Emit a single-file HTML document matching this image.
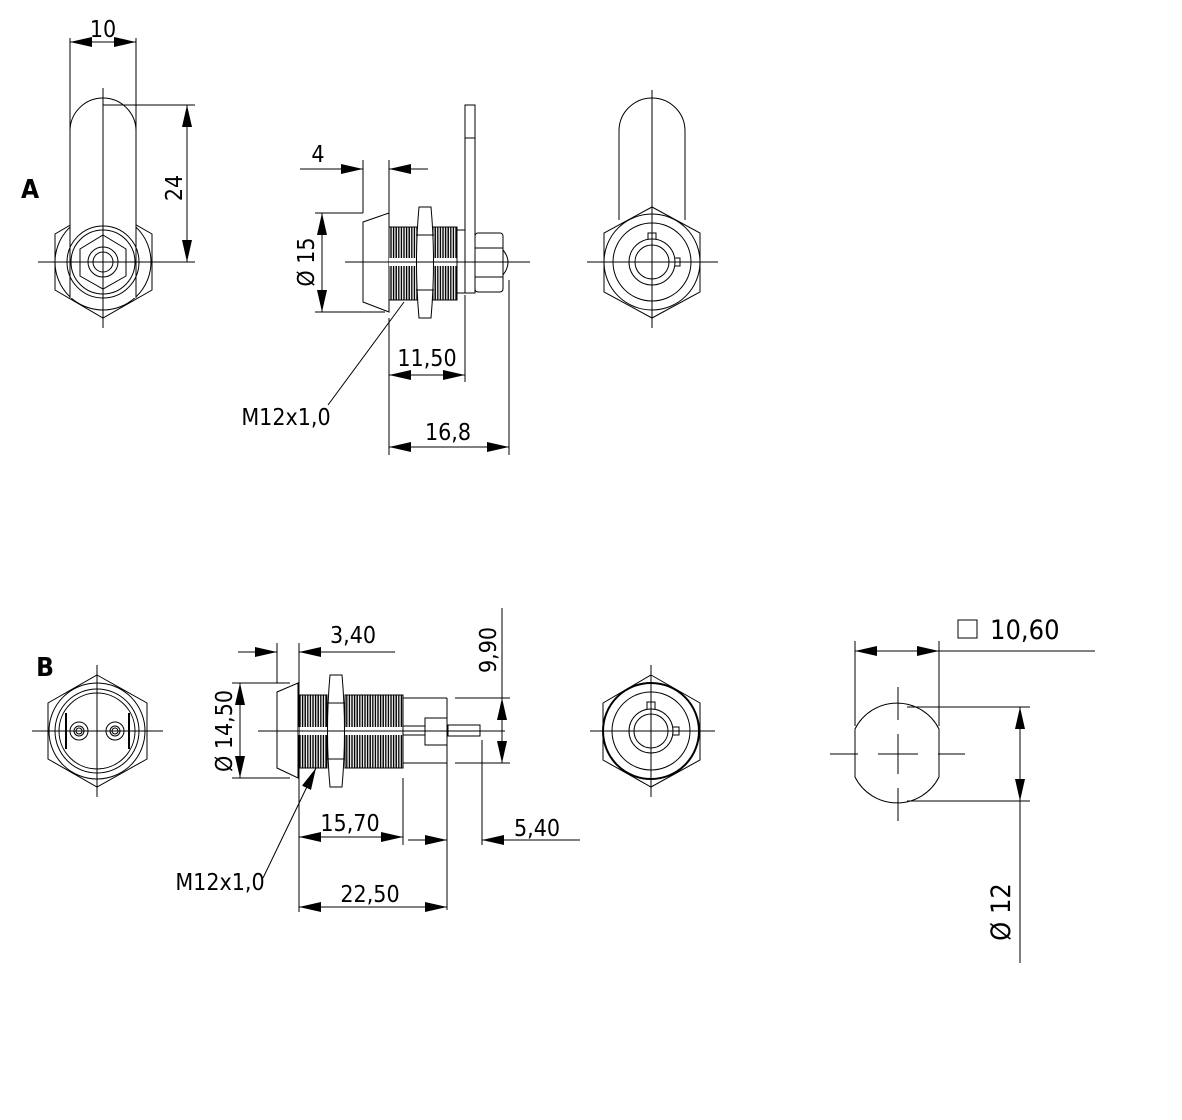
<!DOCTYPE html>
<html><head><meta charset="utf-8"><style>
html,body{margin:0;padding:0;background:#fff;}
svg{display:block;}
text{font-family:"DejaVu Sans Condensed","Liberation Sans",sans-serif;fill:#000;}
</style></head><body>
<svg width="1182" height="1120" viewBox="0 0 1182 1120" xmlns="http://www.w3.org/2000/svg">
<defs>
<marker id="a" markerWidth="22" markerHeight="10" refX="22" refY="5" orient="auto-start-reverse" markerUnits="userSpaceOnUse"><path d="M0,0L22,5L0,10z" fill="#000"/></marker>
<pattern id="th" width="2.6" height="10" patternUnits="userSpaceOnUse"><rect width="2.6" height="10" fill="#fff"/><line x1="1" y1="0" x2="1" y2="10" stroke="#000" stroke-width="1.4"/></pattern>
</defs>
<g fill="none" stroke="#000" stroke-width="1">

<!-- ===== A front view ===== -->
<path d="M103,206 L152,234 L152,290 L103,318 L55,290 L55,234 Z"/>
<circle cx="103" cy="262" r="48"/>
<path d="M70,298 L70,131 A33,33 0 0 1 136,131 L136,298" fill="#fff"/>
<circle cx="103" cy="262" r="36"/>
<circle cx="103" cy="262" r="32"/>
<path d="M103,235 L126,249 L126,276 L103,289 L80,276 L80,249 Z"/>
<circle cx="103" cy="262" r="15"/>
<circle cx="103" cy="262" r="10"/>
<line x1="38" y1="262" x2="160" y2="262"/>
<line x1="103" y1="88" x2="103" y2="328"/>
<line x1="70" y1="38" x2="70" y2="131"/>
<line x1="136" y1="38" x2="136" y2="131"/>
<line x1="70" y1="42" x2="136" y2="42" marker-start="url(#a)" marker-end="url(#a)"/>
<line x1="103" y1="105" x2="195" y2="105"/>
<line x1="150" y1="262" x2="195" y2="262"/>
<line x1="187" y1="105" x2="187" y2="262" marker-start="url(#a)" marker-end="url(#a)"/>

<!-- ===== A side view ===== -->
<path d="M363,222 L389,213 L389,312 L363,302 Z" fill="#fff"/>
<rect x="389" y="227" width="28" height="73" fill="url(#th)"/>
<rect x="433" y="227" width="24" height="73" fill="url(#th)"/>
<line x1="389" y1="262" x2="417" y2="262" stroke="#fff" stroke-width="8"/>
<line x1="433" y1="262" x2="457" y2="262" stroke="#fff" stroke-width="8"/>
<path d="M419,207 L431,207 Q436,262 431,318 L419,318 Q414,262 419,207 Z" fill="#fff"/>
<line x1="416" y1="235" x2="434" y2="235"/><line x1="416" y1="290" x2="434" y2="290"/>
<rect x="457" y="230" width="8" height="63" fill="#fff"/>
<rect x="465" y="105" width="10" height="188" fill="#fff"/>
<line x1="465" y1="138" x2="475" y2="138"/>
<rect x="475" y="233" width="28" height="59" fill="#fff" rx="3"/>
<line x1="475" y1="248" x2="503" y2="248"/><line x1="475" y1="277" x2="503" y2="277"/>
<path d="M503,250 Q513,262 503,275"/>
<line x1="345" y1="262" x2="530" y2="262"/>
<line x1="363" y1="160" x2="363" y2="213"/>
<line x1="389" y1="160" x2="389" y2="213"/>
<line x1="300" y1="169" x2="363" y2="169" marker-end="url(#a)"/>
<line x1="428" y1="169" x2="389" y2="169" marker-end="url(#a)"/>
<line x1="315" y1="213" x2="363" y2="213"/>
<line x1="315" y1="312" x2="385" y2="312"/>
<line x1="322" y1="213" x2="322" y2="312" marker-start="url(#a)" marker-end="url(#a)"/>
<line x1="389" y1="318" x2="389" y2="455"/>
<line x1="465" y1="295" x2="465" y2="382"/>
<line x1="509" y1="280" x2="509" y2="455"/>
<line x1="389" y1="375" x2="465" y2="375" marker-start="url(#a)" marker-end="url(#a)"/>
<line x1="389" y1="447" x2="509" y2="447" marker-start="url(#a)" marker-end="url(#a)"/>
<line x1="404" y1="302" x2="328" y2="405"/>

<!-- ===== A right view ===== -->
<path d="M652,207 L700,233 L700,292 L652,318 L604,292 L604,233 Z"/>
<circle cx="652" cy="262" r="48"/>
<path d="M619,220 L619,131 A33,33 0 0 1 685,131 L685,220" fill="none"/>
<circle cx="652" cy="262" r="39"/>
<circle cx="652" cy="262" r="23"/>
<circle cx="652" cy="262" r="17"/>
<path d="M648,239 L648,233 L656,233 L656,239"/>
<path d="M675,258 L680,258 L680,266 L675,266"/>
<line x1="587" y1="262" x2="718" y2="262"/>
<line x1="652" y1="90" x2="652" y2="328"/>

<!-- ===== B front view ===== -->
<path d="M97,675 L147,703 L147,759 L97,787 L48,759 L48,703 Z"/>
<circle cx="97" cy="731" r="48"/>
<circle cx="97" cy="731" r="42"/>
<circle cx="97" cy="731" r="38"/>
<line x1="66" y1="713" x2="66" y2="749" stroke-width="2"/>
<line x1="129" y1="713" x2="129" y2="749" stroke-width="2"/>
<circle cx="79" cy="731" r="9"/><circle cx="79" cy="731" r="5"/><circle cx="79" cy="731" r="3"/>
<circle cx="115" cy="731" r="9"/><circle cx="115" cy="731" r="5"/><circle cx="115" cy="731" r="3"/>
<line x1="32" y1="731" x2="163" y2="731"/>
<line x1="97" y1="665" x2="97" y2="797"/>

<!-- ===== B side view ===== -->
<path d="M277,692 L298,683 L298,778 L277,768 Z" fill="#fff"/>
<rect x="298" y="695" width="29" height="73" fill="url(#th)"/>
<rect x="345" y="695" width="58" height="73" fill="url(#th)"/>
<line x1="298" y1="731" x2="327" y2="731" stroke="#fff" stroke-width="8"/>
<line x1="345" y1="731" x2="403" y2="731" stroke="#fff" stroke-width="8"/>
<path d="M330,675 L342,675 Q347,731 342,787 L330,787 Q325,731 330,675 Z" fill="#fff"/>
<line x1="327" y1="703" x2="345" y2="703"/><line x1="327" y1="759" x2="345" y2="759"/>
<line x1="403" y1="698" x2="447" y2="698"/>
<line x1="403" y1="763" x2="447" y2="763"/>
<line x1="447" y1="698" x2="447" y2="910"/>
<rect x="403" y="726" width="22" height="9"/>
<rect x="425" y="718" width="22" height="27" fill="#fff"/>
<rect x="448" y="725" width="32" height="11"/>
<line x1="258" y1="731" x2="505" y2="731"/>
<line x1="277" y1="643" x2="277" y2="683"/>
<line x1="299" y1="643" x2="299" y2="912"/>
<line x1="238" y1="652" x2="277" y2="652" marker-end="url(#a)"/>
<line x1="395" y1="652" x2="299" y2="652" marker-end="url(#a)"/>
<line x1="232" y1="683" x2="290" y2="683"/>
<line x1="232" y1="778" x2="290" y2="778"/>
<line x1="240" y1="683" x2="240" y2="778" marker-start="url(#a)" marker-end="url(#a)"/>
<line x1="455" y1="698" x2="510" y2="698"/>
<line x1="455" y1="763" x2="510" y2="763"/>
<line x1="502" y1="608" x2="502" y2="763"/>
<line x1="502" y1="731" x2="502" y2="698" marker-end="url(#a)"/>
<line x1="502" y1="731" x2="502" y2="763" marker-end="url(#a)"/>
<line x1="403" y1="778" x2="403" y2="845"/>
<line x1="482" y1="740" x2="482" y2="845"/>
<line x1="299" y1="837" x2="403" y2="837" marker-start="url(#a)" marker-end="url(#a)"/>
<line x1="408" y1="840" x2="447" y2="840" marker-end="url(#a)"/>
<line x1="580" y1="840" x2="482" y2="840" marker-end="url(#a)"/>
<line x1="299" y1="907" x2="447" y2="907" marker-start="url(#a)" marker-end="url(#a)"/>
<line x1="263" y1="878" x2="316" y2="768" marker-end="url(#a)"/>

<!-- ===== B right view ===== -->
<path d="M651,675 L700,703 L700,760 L651,787 L603,760 L603,703 Z"/>
<circle cx="651" cy="731" r="48" stroke-width="2"/>
<circle cx="651" cy="731" r="39"/>
<circle cx="651" cy="731" r="22"/>
<circle cx="651" cy="731" r="17"/>
<path d="M647,709 L647,702 L655,702 L655,709"/>
<path d="M673,727 L679,727 L679,735 L673,735"/>
<line x1="590" y1="731" x2="715" y2="731"/>
<line x1="651" y1="665" x2="651" y2="797"/>

<!-- ===== Far right ===== -->
<path d="M855,729 A47,47 0 0 1 939,729 L939,777 A47,47 0 0 1 855,777 Z"/>
<line x1="830" y1="754" x2="858" y2="754"/>
<line x1="878" y1="754" x2="918" y2="754"/>
<line x1="938" y1="754" x2="965" y2="754"/>
<line x1="898" y1="687" x2="898" y2="720"/>
<line x1="898" y1="734" x2="898" y2="774"/>
<line x1="898" y1="788" x2="898" y2="821"/>
<line x1="855" y1="641" x2="855" y2="726"/>
<line x1="939" y1="641" x2="939" y2="726"/>
<line x1="855" y1="651" x2="939" y2="651" marker-start="url(#a)" marker-end="url(#a)"/>
<line x1="939" y1="651" x2="1095" y2="651"/>
<rect x="958" y="620" width="19" height="18"/>
<line x1="907" y1="707" x2="1030" y2="707"/>
<line x1="907" y1="801" x2="1030" y2="801"/>
<line x1="1020" y1="707" x2="1020" y2="801" marker-start="url(#a)" marker-end="url(#a)"/>
<line x1="1020" y1="801" x2="1020" y2="963"/>
</g>

<g font-size="23">
<text x="30" y="198" font-family="Liberation Sans" font-weight="bold" font-size="26" text-anchor="middle">A</text>
<text x="45" y="676" font-family="Liberation Sans" font-weight="bold" font-size="26" text-anchor="middle">B</text>
<text x="103" y="37" text-anchor="middle">10</text>
<text transform="translate(182,188) rotate(-90)" text-anchor="middle">24</text>
<text x="318" y="162" text-anchor="middle">4</text>
<text transform="translate(314,262) rotate(-90)" text-anchor="middle">Ø 15</text>
<text x="427" y="366" text-anchor="middle">11,50</text>
<text x="448" y="440" text-anchor="middle">16,8</text>
<text x="286" y="425" text-anchor="middle">M12x1,0</text>
<text x="353" y="643" text-anchor="middle">3,40</text>
<text transform="translate(232,731) rotate(-90)" text-anchor="middle">Ø 14,50</text>
<text transform="translate(496,650) rotate(-90)" text-anchor="middle">9,90</text>
<text x="350" y="831" text-anchor="middle">15,70</text>
<text x="537" y="836" text-anchor="middle">5,40</text>
<text x="370" y="902" text-anchor="middle">22,50</text>
<text x="220" y="890" text-anchor="middle">M12x1,0</text>
<text x="990" y="639" font-size="27">10,60</text>
<text transform="translate(1010,912) rotate(-90)" text-anchor="middle" font-size="27">Ø  12</text>
</g>
</svg>
</body></html>
